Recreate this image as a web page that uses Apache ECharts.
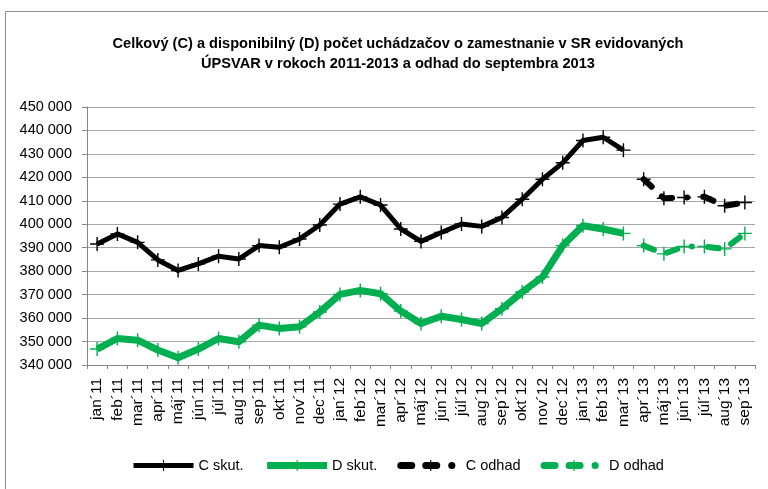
<!DOCTYPE html>
<html lang="sk">
<head>
	<meta charset="UTF-8">
	<title>Uchádzači o zamestnanie</title>
	<script src="https://cdn.jsdelivr.net/npm/echarts@6/dist/echarts.min.js"></script>
	<style>
		* { margin: 0; padding: 0; }
		html, body { background: #fff; }
		#container { width: 768px; height: 489px; }
	</style>
</head>
<body>
<div id="container"></div>
<script type="text/javascript">
	var months = ["jan´11", "feb´11", "mar´11", "apr´11", "máj´11", "jún´11", "júl´11", "aug´11", "sep´11", "okt´11", "nov´11", "dec´11",
		"jan´12", "feb´12", "mar´12", "apr´12", "máj´12", "jún´12", "júl´12", "aug´12", "sep´12", "okt´12", "nov´12", "dec´12",
		"jan´13", "feb´13", "mar´13", "apr´13", "máj´13", "jún´13", "júl´13", "aug´13", "sep´13"];

	// skutočnosť jan'11 - mar'13
	var cSkut = [391600, 395900, 392300, 384800, 380300, 383100, 386400, 385200, 390900, 390200, 393700, 399700,
		408600, 411700, 408200, 398000, 392700, 396500, 400100, 399100, 402900, 410700, 419200, 426200,
		435700, 437100, 431600];
	var dSkut = [346800, 351300, 350600, 346400, 343100, 346800, 351300, 349900, 357000, 355600, 356300, 362600,
		370100, 371800, 370400, 363000, 357700, 360800, 359400, 357700, 364000, 371100, 377500, 390900,
		399400, 398000, 396100];

	// odhad apr'13 - sep'13
	var cOdhad = [419200, 411100, 411400, 411700, 407900, 409300];
	var dOdhad = [390900, 387400, 390500, 390500, 389500, 396100];

	var font = "'Liberation Sans', Arial, sans-serif";
	var black = '#000000', green = '#00b050';
	var plus = 'path://M9,0 h2 v9 h9 v2 h-9 v9 h-2 v-9 h-9 v-2 h9 z';
	var dash = [11, 14, 11, 15, 0.1, 16];

	function pad(arr, before, total) {
		var out = [];
		for (var i = 0; i < total; i++) {
			var j = i - before;
			out.push(j >= 0 && j < arr.length ? arr[j] : '-');
		}
		return out;
	}

	var myChart = echarts.init(document.getElementById('container'));

	var option = {
		animation: false,
		graphic: [
			{
				type: 'rect', silent: true,
				shape: { x: 5.5, y: 11.5, width: 800, height: 520 },
				style: { fill: 'none', stroke: '#8c8c8c', lineWidth: 1 }
			},
			{
				type: 'text', silent: true,
				style: {
					x: 398, y: 34, textAlign: 'center',
					text: 'Celkový (C) a disponibilný (D) počet uchádzačov o zamestnanie v SR evidovaných\nÚPSVAR v rokoch 2011-2013 a odhad do septembra 2013',
					font: 'bold 14.6px ' + font, lineHeight: 20, fill: '#000'
				}
			}
		],
		legend: {
			left: 131, top: 458, padding: 0,
			itemWidth: 60, itemHeight: 14, itemGap: 20,
			textStyle: { fontFamily: font, fontSize: 14.5, color: '#000' },
			data: [
				{ name: 'C skut.', lineStyle: { width: 5 } },
				{ name: 'D skut.', lineStyle: { width: 7 } },
				{ name: 'C odhad', lineStyle: { width: 7 } },
				{ name: 'D odhad', lineStyle: { width: 7 } }
			]
		},
		grid: { left: 87, right: 13, top: 107, bottom: 124 },
		xAxis: {
			type: 'category',
			data: months,
			boundaryGap: true,
			axisLine: { lineStyle: { color: '#868686', width: 1 } },
			axisTick: { show: true, length: 4, lineStyle: { color: '#868686' } },
			axisLabel: {
				rotate: 90, interval: 0, margin: 13,
				fontFamily: font, fontSize: 15.5, color: '#000'
			}
		},
		yAxis: {
			type: 'value',
			min: 340000, max: 450000, interval: 10000,
			axisLine: { show: true, lineStyle: { color: '#868686', width: 1 } },
			axisTick: { show: true, length: 5, lineStyle: { color: '#868686' } },
			splitLine: { lineStyle: { color: '#a6a6a6', width: 1 } },
			axisLabel: {
				margin: 15, fontFamily: font, fontSize: 14.5, color: '#000',
				formatter: function (v) { return String(v).replace(/\B(?=(\d{3})+(?!\d))/g, ' '); }
			}
		},
		series: [
			{
				name: 'C skut.', type: 'line',
				data: pad(cSkut, 0, months.length),
				symbol: plus, symbolSize: 14,
				itemStyle: { color: black },
				lineStyle: { color: black, width: 5, join: 'round' },
				z: 3
			},
			{
				name: 'D skut.', type: 'line',
				data: pad(dSkut, 0, months.length),
				symbol: plus, symbolSize: 14,
				itemStyle: { color: green },
				lineStyle: { color: green, width: 7, join: 'round' },
				z: 2
			},
			{
				name: 'C odhad', type: 'line',
				data: pad(cOdhad, cSkut.length, months.length),
				symbol: plus, symbolSize: 14,
				itemStyle: { color: black },
				lineStyle: { color: black, width: 6, type: dash, cap: 'round', join: 'round' },
				z: 3
			},
			{
				name: 'D odhad', type: 'line',
				data: pad(dOdhad, dSkut.length, months.length),
				symbol: plus, symbolSize: 14,
				itemStyle: { color: green },
				lineStyle: { color: green, width: 6, type: dash, cap: 'round', join: 'round' },
				z: 2
			}
		]
	};

	myChart.setOption(option);
</script>
</body>
</html>
